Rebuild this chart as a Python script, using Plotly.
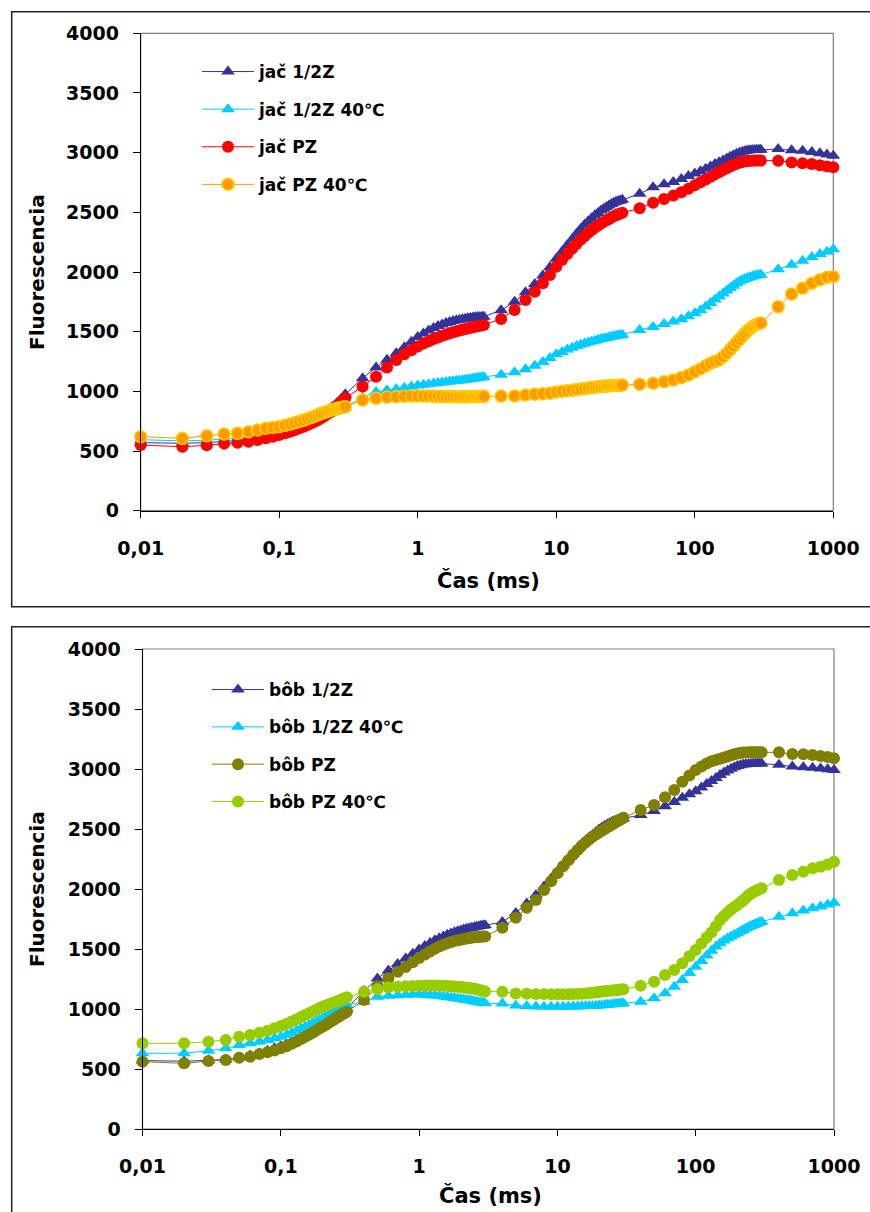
import plotly.graph_objects as go

# time points (ms)
t = [0.01, 0.02, 0.03, 0.04, 0.05, 0.06, 0.07, 0.08, 0.09, 0.10,
     0.11, 0.12, 0.13, 0.14, 0.15, 0.16, 0.17, 0.18, 0.19, 0.20,
     0.21, 0.22, 0.23, 0.24, 0.25, 0.26, 0.27, 0.28, 0.29, 0.30,
     0.4, 0.5, 0.6, 0.7, 0.8, 0.9, 1.0, 1.1, 1.2, 1.3, 1.4, 1.5, 1.6, 1.7,
     1.8, 1.9, 2.0, 2.1, 2.2, 2.3, 2.4, 2.5, 2.6, 2.7, 2.8, 2.9, 3.0,
     4, 5, 6, 7, 8, 9, 10, 11, 12, 13, 14, 15, 16, 17, 18, 19, 20,
     21, 22, 23, 24, 25, 26, 27, 28, 29, 30,
     40, 50, 60, 70, 80, 90, 100, 110, 120, 130, 140, 150, 160, 170,
     180, 190, 200, 210, 220, 230, 240, 250, 260, 270, 280, 290, 300,
     400, 500, 600, 700, 800, 900, 1000]

# ---- top chart (jač) ----
jac_half = [570, 565, 570, 578, 588, 598, 612, 626, 640, 655,
            668, 682, 696, 710, 724, 738, 752, 768, 783, 800,
            815, 832, 848, 864, 880, 898, 915, 935, 955, 975,
            1110, 1200, 1265, 1320, 1370, 1415, 1455, 1485, 1510, 1530, 1548, 1560, 1572, 1582,
            1590, 1596, 1600, 1605, 1609, 1612, 1615, 1618, 1620, 1622, 1624, 1625, 1626,
            1680, 1750, 1830, 1900, 1970, 2040, 2110, 2170, 2225, 2275, 2320, 2360, 2395, 2425, 2450, 2475, 2495,
            2515, 2530, 2545, 2558, 2570, 2580, 2588, 2595, 2600, 2605,
            2655, 2710, 2735, 2755, 2780, 2805, 2825, 2845, 2865, 2885, 2905, 2920, 2935, 2950,
            2965, 2978, 2990, 3000, 3008, 3013, 3017, 3020, 3022, 3023, 3024, 3025, 3025,
            3030, 3020, 3015, 3005, 2995, 2985, 2975]

jac_half_40 = [595, 585, 590, 598, 608, 620, 635, 650, 665, 680,
               693, 705, 717, 730, 742, 752, 762, 772, 782, 790,
               798, 806, 814, 822, 830, 838, 845, 852, 858, 865,
               950, 995, 1010, 1020, 1030, 1040, 1048, 1055, 1060, 1065, 1070, 1074, 1078, 1082,
               1085, 1088, 1091, 1094, 1097, 1100, 1103, 1106, 1109, 1112, 1115, 1118, 1120,
               1140, 1160, 1185, 1215, 1245, 1280, 1310, 1330, 1350, 1365, 1380, 1390, 1400, 1410, 1418, 1425, 1432,
               1438, 1443, 1448, 1453, 1457, 1461, 1465, 1468, 1471, 1474,
               1515, 1540, 1565, 1585, 1605, 1630, 1655, 1680, 1710, 1740, 1770, 1795, 1820, 1845,
               1865, 1885, 1905, 1920, 1932, 1942, 1950, 1957, 1963, 1968, 1972, 1975, 1978,
               2022, 2060, 2095, 2125, 2150, 2170, 2190]

jac_pz = [550, 536, 548, 562, 570, 578, 592, 606, 620, 634,
          648, 662, 676, 690, 704, 718, 732, 746, 760, 775,
          790, 805, 820, 835, 860, 877, 895, 912, 928, 945,
          1040, 1123, 1200, 1262, 1310, 1345, 1375, 1400, 1420, 1438, 1452, 1465, 1476, 1486,
          1495, 1503, 1510, 1516, 1522, 1527, 1532, 1537, 1541, 1545, 1549, 1553, 1556,
          1607, 1682, 1765, 1835, 1905, 1975, 2044, 2100, 2150, 2195, 2235, 2270, 2300, 2328, 2352, 2372, 2390,
          2406, 2420, 2433, 2445, 2456, 2466, 2475, 2483, 2490, 2497,
          2534, 2581, 2612, 2640, 2668, 2698, 2727, 2752, 2775, 2797, 2818, 2838, 2855, 2870,
          2884, 2897, 2908, 2916, 2922, 2927, 2930, 2932, 2933, 2934, 2934, 2934, 2934,
          2933, 2918, 2912, 2905, 2895, 2885, 2877]

jac_pz_40 = [620, 606, 628, 643, 648, 662, 676, 690, 697, 704,
             715, 726, 737, 748, 759, 770, 781, 792, 803, 814,
             822, 830, 838, 845, 851, 856, 861, 865, 868, 871,
             927, 942, 950, 955, 958, 960, 961, 961, 960, 959, 958, 957, 956, 956,
             955, 955, 955, 955, 955, 955, 955, 956, 956, 957, 957, 958, 958,
             960, 962, 970, 975, 980, 985, 995, 1000, 1005, 1010, 1015, 1020, 1024, 1028, 1032, 1035, 1038,
             1040, 1042, 1044, 1046, 1048, 1049, 1050, 1051, 1052, 1053,
             1059, 1067, 1080, 1095, 1115, 1138, 1165, 1190, 1215, 1235, 1250, 1263, 1290, 1320,
             1350, 1380, 1410, 1435, 1460, 1485, 1505, 1525, 1540, 1552, 1562, 1568, 1572,
             1709, 1816, 1863, 1905, 1935, 1955, 1961]

# ---- bottom chart (bôb) ----
bob_half = [570, 565, 572, 580, 595, 612, 632, 652, 672, 690,
            708, 726, 745, 765, 785, 803, 820, 838, 855, 872,
            886, 900, 914, 928, 942, 955, 968, 980, 992, 1005,
            1150, 1255, 1320, 1375, 1420, 1460, 1495, 1525, 1550, 1572, 1590, 1605, 1618, 1630,
            1640, 1648, 1655, 1662, 1668, 1673, 1678, 1682, 1686, 1690, 1693, 1696, 1698,
            1725, 1800, 1880, 1950, 2020, 2085, 2145, 2200, 2250, 2295, 2335, 2370, 2400, 2428, 2452, 2475, 2495,
            2512, 2527, 2540, 2551, 2560, 2568, 2575, 2580, 2584, 2588,
            2617, 2650, 2690, 2725, 2760, 2790, 2815, 2845, 2875, 2900, 2925, 2950, 2970, 2988,
            3003, 3015, 3025, 3032, 3037, 3040, 3042, 3043, 3044, 3045, 3045, 3045, 3045,
            3035, 3020, 3015, 3010, 3005, 2998, 2992]

bob_half_40 = [631, 631, 653, 672, 700, 714, 728, 742, 756, 769,
               786, 803, 820, 837, 853, 867, 881, 895, 909, 922,
               934, 946, 958, 970, 982, 993, 1003, 1013, 1023, 1033,
               1061, 1103, 1110, 1115, 1118, 1120, 1120, 1118, 1115, 1112, 1108, 1104, 1100, 1096,
               1092, 1088, 1084, 1080, 1076, 1072, 1068, 1064, 1060, 1057, 1054, 1050, 1047,
               1045, 1030, 1025, 1020, 1018, 1018, 1018, 1018, 1019, 1020, 1021, 1022, 1024, 1025, 1026, 1028, 1030,
               1032, 1034, 1036, 1038, 1040, 1042, 1043, 1045, 1046, 1047,
               1061, 1089, 1131, 1186, 1242, 1300, 1353, 1400, 1445, 1485, 1520, 1547, 1570, 1590,
               1605, 1619, 1631, 1645, 1658, 1670, 1682, 1692, 1700, 1708, 1715, 1722, 1728,
               1769, 1797, 1820, 1839, 1855, 1870, 1886]

bob_pz = [561, 547, 567, 575, 594, 603, 625, 639, 655, 672,
          690, 710, 730, 750, 769, 786, 803, 820, 837, 853,
          867, 881, 895, 909, 922, 934, 945, 956, 967, 978,
          1075, 1190, 1256, 1310, 1350, 1390, 1425, 1455, 1480, 1502, 1520, 1535, 1548, 1558,
          1566, 1573, 1578, 1583, 1587, 1591, 1594, 1597, 1599, 1601, 1603, 1604, 1605,
          1678, 1761, 1844, 1908, 1992, 2065, 2131, 2190, 2240, 2285, 2325, 2360, 2390, 2415, 2437, 2455, 2470,
          2485, 2500, 2515, 2528, 2540, 2552, 2563, 2573, 2583, 2594,
          2658, 2700, 2764, 2825, 2894, 2945, 2992, 3020, 3045, 3065, 3075, 3085, 3095, 3105,
          3115, 3123, 3130, 3134, 3137, 3138, 3139, 3139, 3139, 3139, 3139, 3139, 3139,
          3139, 3125, 3122, 3117, 3108, 3100, 3089]

bob_pz_40 = [714, 714, 728, 742, 769, 783, 803, 819, 839, 858,
             877, 896, 915, 933, 950, 965, 979, 993, 1006, 1019,
             1028, 1037, 1045, 1053, 1061, 1069, 1076, 1083, 1090, 1097,
             1144, 1164, 1181, 1186, 1190, 1192, 1194, 1195, 1195, 1195, 1194, 1193, 1192, 1190,
             1188, 1186, 1184, 1181, 1178, 1175, 1172, 1168, 1164, 1160, 1155, 1150, 1146,
             1144, 1130, 1127, 1125, 1124, 1123, 1122, 1122, 1123, 1124, 1126, 1128, 1130, 1133, 1136, 1139, 1142,
             1145, 1148, 1151, 1153, 1155, 1157, 1159, 1161, 1163, 1164,
             1194, 1228, 1283, 1325, 1381, 1440, 1492, 1545, 1595, 1640, 1690, 1742, 1775, 1805,
             1830, 1850, 1867, 1885, 1905, 1925, 1945, 1960, 1972, 1983, 1992, 2000, 2006,
             2075, 2117, 2144, 2172, 2186, 2205, 2228]

x_tickvals = [0.01, 0.1, 1, 10, 100, 1000]
x_ticktext = ["0,01", "0,1", "1", "10", "100", "1000"]
y_tickvals = [0, 500, 1000, 1500, 2000, 2500, 3000, 3500, 4000]

W, H = 870, 1212
FONT = "DejaVu Sans"

def px_x(p):
    return p / W

def px_y(p):
    return 1 - p / H

fig = go.Figure()

def add(x, y, name, color, symbol, size, xa, ya, leg, lcolor=None, mline=None):
    fig.add_trace(go.Scatter(
        x=x, y=y, name=name, mode="lines+markers",
        line=dict(color=lcolor or color, width=1),
        marker=dict(color=color, symbol=symbol, size=size,
                    line=mline or dict(width=0)),
        xaxis=xa, yaxis=ya, legend=leg, legendgroup=name,
        cliponaxis=False))

add(t, jac_half, "jač 1/2Z", "#333399", "triangle-up", 12, "x", "y", "legend")
add(t, jac_half_40, "jač 1/2Z 40℃", "#00CCFF", "triangle-up", 12, "x", "y", "legend")
add(t, jac_pz, "jač PZ", "#FF0000", "circle", 12, "x", "y", "legend")
add(t, jac_pz_40, "jač PZ 40℃", "#FF9900", "circle", 12, "x", "y", "legend",
    lcolor="#FF9900", mline=dict(color="#FFCC00", width=1.5))

add(t, bob_half, "bôb 1/2Z", "#333399", "triangle-up", 12, "x2", "y2", "legend2")
add(t, bob_half_40, "bôb 1/2Z 40℃", "#00CCFF", "triangle-up", 12, "x2", "y2", "legend2")
add(t, bob_pz, "bôb PZ", "#808000", "circle", 12, "x2", "y2", "legend2")
add(t, bob_pz_40, "bôb PZ 40℃", "#99CC00", "circle", 12, "x2", "y2", "legend2")

axis_common = dict(showline=True, linecolor="black", linewidth=1,
                   ticks="outside", tickcolor="black", tickwidth=1,
                   showgrid=False, zeroline=False, automargin=False,
                   tickfont=dict(family=FONT, size=19, color="black", weight="bold"))

xcommon = dict(axis_common, type="log", range=[-2, 3], tickvals=x_tickvals,
               ticktext=x_ticktext, ticklen=6, ticklabelstandoff=14)
ycommon = dict(axis_common, range=[0, 4000], tickvals=y_tickvals,
               ticklen=7, ticklabelstandoff=10)

legend_font = dict(family=FONT, size=17, color="black", weight="bold")

fig.update_layout(
    width=W, height=H, autosize=False,
    margin=dict(l=0, r=0, t=0, b=0, pad=0, autoexpand=False),
    paper_bgcolor="white", plot_bgcolor="white",
    font=dict(family=FONT, color="black", weight="bold"),
    showlegend=True,
    xaxis=dict(xcommon, domain=[px_x(140.7), px_x(833.3)], anchor="y"),
    yaxis=dict(ycommon, domain=[px_y(510.7), px_y(33.3)], anchor="x"),
    xaxis2=dict(xcommon, domain=[px_x(142.5), px_x(834.0)], anchor="y2"),
    yaxis2=dict(ycommon, domain=[px_y(1129.0), px_y(649.0)], anchor="x2"),
    legend=dict(x=px_x(197), y=px_y(54), xanchor="left", yanchor="top",
                bgcolor="rgba(0,0,0,0)", borderwidth=0, itemwidth=52,
                tracegroupgap=12.5, font=legend_font),
    legend2=dict(x=px_x(207), y=px_y(672), xanchor="left", yanchor="top",
                 bgcolor="rgba(0,0,0,0)", borderwidth=0, itemwidth=52,
                 tracegroupgap=12.2, font=legend_font),
)

shapes = [
    # outer frames
    dict(type="rect", xref="paper", yref="paper",
         x0=px_x(11.7), x1=1.003, y0=px_y(606.7), y1=px_y(11.7),
         line=dict(color="#222222", width=1.5), layer="below"),
    dict(type="rect", xref="paper", yref="paper",
         x0=px_x(11.7), x1=1.003, y0=-0.003, y1=px_y(626.7),
         line=dict(color="#222222", width=1.5), layer="below"),
    # plot-area borders (grey)
    dict(type="rect", xref="x domain", yref="y domain", x0=0, x1=1, y0=0, y1=1,
         line=dict(color="#808080", width=1.2), layer="below"),
    dict(type="rect", xref="x2 domain", yref="y2 domain", x0=0, x1=1, y0=0, y1=1,
         line=dict(color="#808080", width=1.2), layer="below"),
]
fig.update_layout(shapes=shapes)

title_font = dict(family=FONT, size=20, color="black", weight="bold")
annotations = [
    dict(text="Fluorescencia", x=px_x(37), y=px_y(272), xref="paper", yref="paper",
         textangle=-90, showarrow=False, font=title_font, xanchor="center", yanchor="middle"),
    dict(text="Čas (ms)", x=px_x(488), y=px_y(580), xref="paper", yref="paper",
         showarrow=False, font=dict(title_font, size=21), xanchor="center", yanchor="middle"),
    dict(text="Fluorescencia", x=px_x(37), y=px_y(889), xref="paper", yref="paper",
         textangle=-90, showarrow=False, font=title_font, xanchor="center", yanchor="middle"),
    dict(text="Čas (ms)", x=px_x(490), y=px_y(1195), xref="paper", yref="paper",
         showarrow=False, font=dict(title_font, size=21), xanchor="center", yanchor="middle"),
]
fig.update_layout(annotations=annotations)

fig.write_html("out.html")
